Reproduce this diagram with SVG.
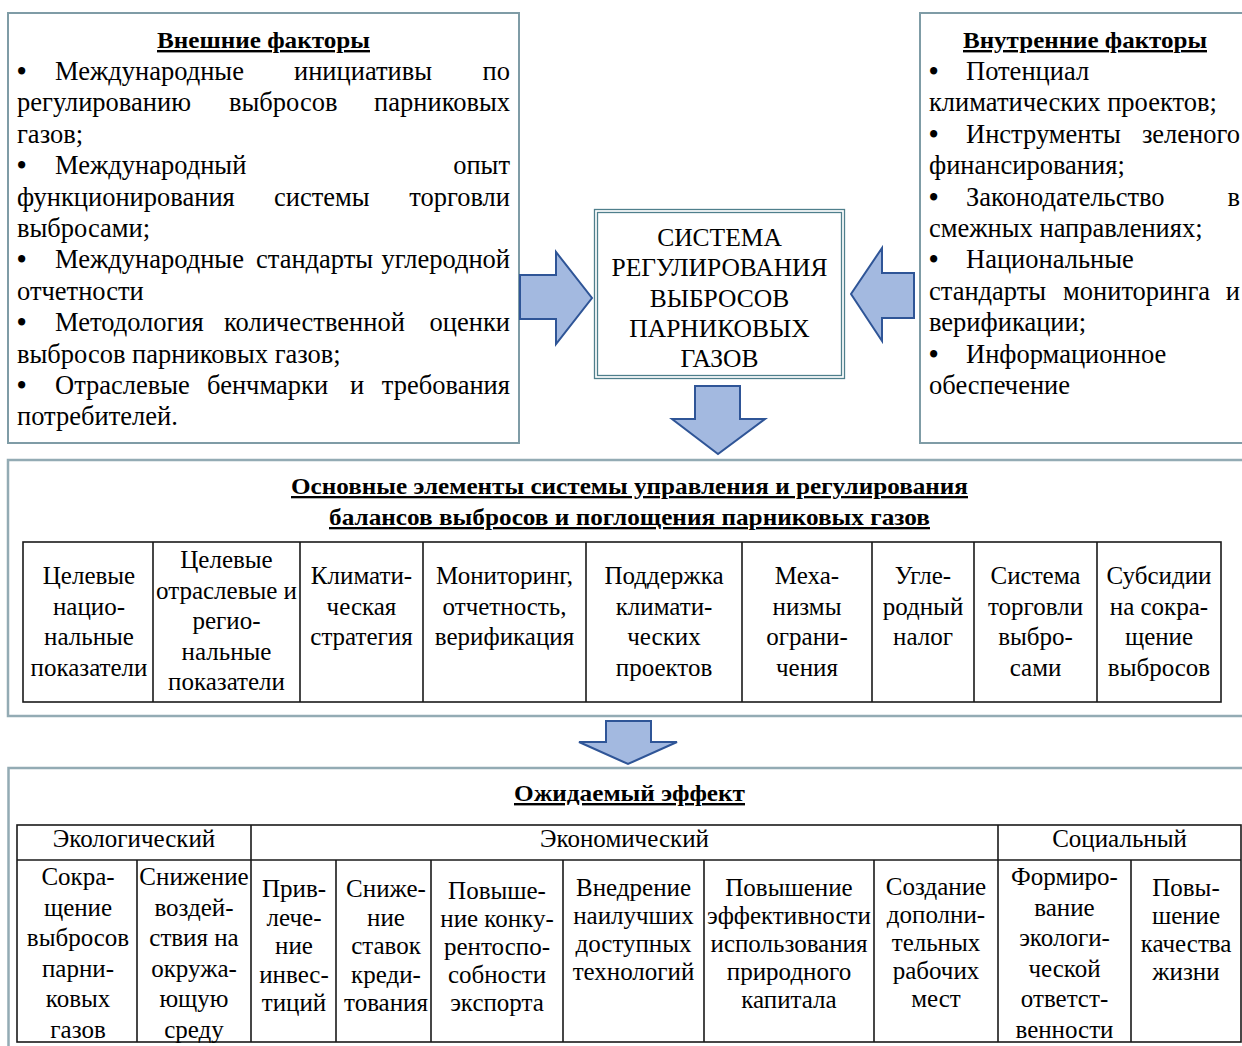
<svg xmlns="http://www.w3.org/2000/svg" width="1242" height="1046" viewBox="0 0 1242 1046">
<style>
.t{font-family:"Liberation Serif","Times New Roman",serif;font-size:26.5px;fill:#000}
.b{font-family:"Liberation Serif","Times New Roman",serif;font-size:26.5px;font-weight:bold;fill:#000}
.c{font-family:"Liberation Serif","Times New Roman",serif;font-size:25.5px;fill:#000;text-anchor:middle}
.tb{font-family:"Liberation Serif","Times New Roman",serif;font-size:25px;fill:#000;text-anchor:middle}
.h{font-family:"Liberation Serif","Times New Roman",serif;font-size:24px;font-weight:bold;fill:#000;text-anchor:middle;text-decoration:underline}
.e{text-anchor:end}
.box{fill:#fff;stroke:#7f9ca6;stroke-width:2}
.sec{fill:#fff;stroke:#93abb4;stroke-width:2.5}
.arr{fill:#a3b9e0;stroke:#2f5597;stroke-width:2;stroke-linejoin:miter}
.grid{fill:none;stroke:#1a1a1a;stroke-width:1.6}
</style>
<rect width="1242" height="1046" fill="#fff"/>

<g id="external-factors">
<rect class="box" x="8" y="13" width="511" height="430"/>
<text class="h" x="263.5" y="48" textLength="213" lengthAdjust="spacingAndGlyphs">Внешние факторы</text>
<text class="b" x="17" y="80">•</text><text class="t" x="55" y="80">Международные</text><text class="t" x="294" y="80">инициативы</text><text class="t e" x="510" y="80">по</text>
<text class="t" x="17" y="111.4">регулированию</text><text class="t" x="229" y="111.4">выбросов</text><text class="t e" x="510" y="111.4">парниковых</text>
<text class="t" x="17" y="142.8">газов;</text>
<text class="b" x="17" y="174.2">•</text><text class="t" x="55" y="174.2">Международный</text><text class="t e" x="510" y="174.2">опыт</text>
<text class="t" x="17" y="205.6">функционирования</text><text class="t" x="274" y="205.6">системы</text><text class="t e" x="510" y="205.6">торговли</text>
<text class="t" x="17" y="237">выбросами;</text>
<text class="b" x="17" y="268.4">•</text><text class="t" x="55" y="268.4">Международные</text><text class="t" x="256" y="268.4">стандарты</text><text class="t e" x="510" y="268.4">углеродной</text>
<text class="t" x="17" y="299.8">отчетности</text>
<text class="b" x="17" y="331.2">•</text><text class="t" x="55" y="331.2">Методология</text><text class="t" x="224" y="331.2">количественной</text><text class="t e" x="510" y="331.2">оценки</text>
<text class="t" x="17" y="362.6">выбросов парниковых газов;</text>
<text class="b" x="17" y="394">•</text><text class="t" x="55" y="394">Отраслевые</text><text class="t" x="207" y="394">бенчмарки</text><text class="t" x="350" y="394">и</text><text class="t e" x="510" y="394">требования</text>
<text class="t" x="17" y="425.4">потребителей.</text>
</g>

<g id="internal-factors">
<rect class="box" x="920" y="13" width="340" height="430"/>
<text class="h" x="1085" y="48" textLength="244" lengthAdjust="spacingAndGlyphs">Внутренние факторы</text>
<text class="b" x="929" y="80">•</text><text class="t" x="966" y="80">Потенциал</text>
<text class="t" x="929" y="111.4">климатических проектов;</text>
<text class="b" x="929" y="142.8">•</text><text class="t" x="966" y="142.8">Инструменты</text><text class="t e" x="1240" y="142.8">зеленого</text>
<text class="t" x="929" y="174.2">финансирования;</text>
<text class="b" x="929" y="205.6">•</text><text class="t" x="966" y="205.6">Законодательство</text><text class="t e" x="1240" y="205.6">в</text>
<text class="t" x="929" y="237">смежных направлениях;</text>
<text class="b" x="929" y="268.4">•</text><text class="t" x="966" y="268.4">Национальные</text>
<text class="t" x="929" y="299.8">стандарты</text><text class="t" x="1063" y="299.8">мониторинга</text><text class="t e" x="1240" y="299.8">и</text>
<text class="t" x="929" y="331.2">верификации;</text>
<text class="b" x="929" y="362.6">•</text><text class="t" x="966" y="362.6">Информационное</text>
<text class="t" x="929" y="394">обеспечение</text>
</g>

<g id="system">
<rect x="594.5" y="209.5" width="250" height="169" fill="#fff" stroke="#4f7f8c" stroke-width="1.3"/>
<rect x="597.5" y="212.5" width="244" height="163" fill="none" stroke="#4f7f8c" stroke-width="1.3"/>
<text class="c" x="719.5" y="246">СИСТЕМА</text>
<text class="c" x="719.5" y="276.3">РЕГУЛИРОВАНИЯ</text>
<text class="c" x="719.5" y="306.6">ВЫБРОСОВ</text>
<text class="c" x="719.5" y="337">ПАРНИКОВЫХ</text>
<text class="c" x="719.5" y="367.3">ГАЗОВ</text>
</g>

<g id="connectors">
<polygon class="arr" points="520,275 556,275 556,252 592,298 556,344 556,319 520,319"/>
<polygon class="arr" points="914,273 882,273 882,248 851,294 882,341 882,318 914,318"/>
<polygon class="arr" points="695,386 740,386 740,419 765,419 718,454 672,419 695,419"/>
<polygon class="arr" points="606,721 651,721 651,742 677,742 628,764 579,742 606,742"/>
</g>

<g id="main-elements">
<rect class="sec" x="8" y="460" width="1260" height="256"/>
<text class="h" x="629.5" y="494" textLength="677" lengthAdjust="spacingAndGlyphs" style="font-size:23px">Основные элементы системы управления и регулирования</text>
<text class="h" x="629.5" y="525" textLength="601" lengthAdjust="spacingAndGlyphs" style="font-size:23px">балансов выбросов и поглощения парниковых газов</text>
<g class="grid">
<rect x="23" y="542" width="1198" height="160"/>
<path d="M153 542V702M300 542V702M423 542V702M586 542V702M742 542V702M872 542V702M974 542V702M1097 542V702"/>
</g>
<g id="el-1"><text class="tb" x="89" y="584">Целевые</text><text class="tb" x="89" y="614.5">нацио-</text><text class="tb" x="89" y="645">нальные</text><text class="tb" x="89" y="675.5">показатели</text></g>
<g id="el-2"><text class="tb" x="226.5" y="568">Целевые</text><text class="tb" x="226.5" y="598.5">отраслевые и</text><text class="tb" x="226.5" y="629">регио-</text><text class="tb" x="226.5" y="659.5">нальные</text><text class="tb" x="226.5" y="690">показатели</text></g>
<g id="el-3"><text class="tb" x="361.5" y="584">Климати-</text><text class="tb" x="361.5" y="614.5">ческая</text><text class="tb" x="361.5" y="645">стратегия</text></g>
<g id="el-4"><text class="tb" x="504.5" y="584">Мониторинг,</text><text class="tb" x="504.5" y="614.5">отчетность,</text><text class="tb" x="504.5" y="645">верификация</text></g>
<g id="el-5"><text class="tb" x="664" y="584">Поддержка</text><text class="tb" x="664" y="614.5">климати-</text><text class="tb" x="664" y="645">ческих</text><text class="tb" x="664" y="675.5">проектов</text></g>
<g id="el-6"><text class="tb" x="807" y="584">Меха-</text><text class="tb" x="807" y="614.5">низмы</text><text class="tb" x="807" y="645">ограни-</text><text class="tb" x="807" y="675.5">чения</text></g>
<g id="el-7"><text class="tb" x="923" y="584">Угле-</text><text class="tb" x="923" y="614.5">родный</text><text class="tb" x="923" y="645">налог</text></g>
<g id="el-8"><text class="tb" x="1035.5" y="584">Система</text><text class="tb" x="1035.5" y="614.5">торговли</text><text class="tb" x="1035.5" y="645">выбро-</text><text class="tb" x="1035.5" y="675.5">сами</text></g>
<g id="el-9"><text class="tb" x="1159" y="584">Субсидии</text><text class="tb" x="1159" y="614.5">на сокра-</text><text class="tb" x="1159" y="645">щение</text><text class="tb" x="1159" y="675.5">выбросов</text></g>
</g>

<g id="expected-effect">
<rect class="sec" x="8.5" y="768" width="1260" height="300"/>
<text class="h" x="629.5" y="801" textLength="231" lengthAdjust="spacingAndGlyphs">Ожидаемый эффект</text>
<g class="grid">
<rect x="17" y="825" width="1224" height="217"/>
<path d="M17 860H1241M251 825V1042M998 825V1042M137 860V1042M336 860V1042M431 860V1042M563 860V1042M704 860V1042M874 860V1042M1131 860V1042"/>
</g>
<text class="tb" x="134" y="847">Экологический</text>
<text class="tb" x="624.5" y="847">Экономический</text>
<text class="tb" x="1119.5" y="847">Социальный</text>
<g id="ef-1"><text class="tb" x="78" y="885">Сокра-</text><text class="tb" x="78" y="915.5">щение</text><text class="tb" x="78" y="946">выбросов</text><text class="tb" x="78" y="976.5">парни-</text><text class="tb" x="78" y="1007">ковых</text><text class="tb" x="78" y="1037.5">газов</text></g>
<g id="ef-2"><text class="tb" x="194" y="885">Снижение</text><text class="tb" x="194" y="915.5">воздей-</text><text class="tb" x="194" y="946">ствия на</text><text class="tb" x="194" y="976.5">окружа-</text><text class="tb" x="194" y="1007">ющую</text><text class="tb" x="194" y="1037.5">среду</text></g>
<g id="ef-3"><text class="tb" x="294" y="897">Прив-</text><text class="tb" x="294" y="925.5">лече-</text><text class="tb" x="294" y="954">ние</text><text class="tb" x="294" y="982.5">инвес-</text><text class="tb" x="294" y="1011">тиций</text></g>
<g id="ef-4"><text class="tb" x="386" y="897">Сниже-</text><text class="tb" x="386" y="925.5">ние</text><text class="tb" x="386" y="954">ставок</text><text class="tb" x="386" y="982.5">креди-</text><text class="tb" x="386" y="1011">тования</text></g>
<g id="ef-5"><text class="tb" x="497" y="899">Повыше-</text><text class="tb" x="497" y="927">ние конку-</text><text class="tb" x="497" y="955">рентоспо-</text><text class="tb" x="497" y="983">собности</text><text class="tb" x="497" y="1011">экспорта</text></g>
<g id="ef-6"><text class="tb" x="633.5" y="896">Внедрение</text><text class="tb" x="633.5" y="924">наилучших</text><text class="tb" x="633.5" y="952">доступных</text><text class="tb" x="633.5" y="980">технологий</text></g>
<g id="ef-7"><text class="tb" x="789" y="896">Повышение</text><text class="tb" x="789" y="924">эффективности</text><text class="tb" x="789" y="952">использования</text><text class="tb" x="789" y="980">природного</text><text class="tb" x="789" y="1008">капитала</text></g>
<g id="ef-8"><text class="tb" x="936" y="895">Создание</text><text class="tb" x="936" y="923">дополни-</text><text class="tb" x="936" y="951">тельных</text><text class="tb" x="936" y="979">рабочих</text><text class="tb" x="936" y="1007">мест</text></g>
<g id="ef-9"><text class="tb" x="1064.5" y="885">Формиро-</text><text class="tb" x="1064.5" y="915.5">вание</text><text class="tb" x="1064.5" y="946">экологи-</text><text class="tb" x="1064.5" y="976.5">ческой</text><text class="tb" x="1064.5" y="1007">ответст-</text><text class="tb" x="1064.5" y="1037.5">венности</text></g>
<g id="ef-10"><text class="tb" x="1186" y="896">Повы-</text><text class="tb" x="1186" y="924">шение</text><text class="tb" x="1186" y="952">качества</text><text class="tb" x="1186" y="980">жизни</text></g>
</g>
</svg>
